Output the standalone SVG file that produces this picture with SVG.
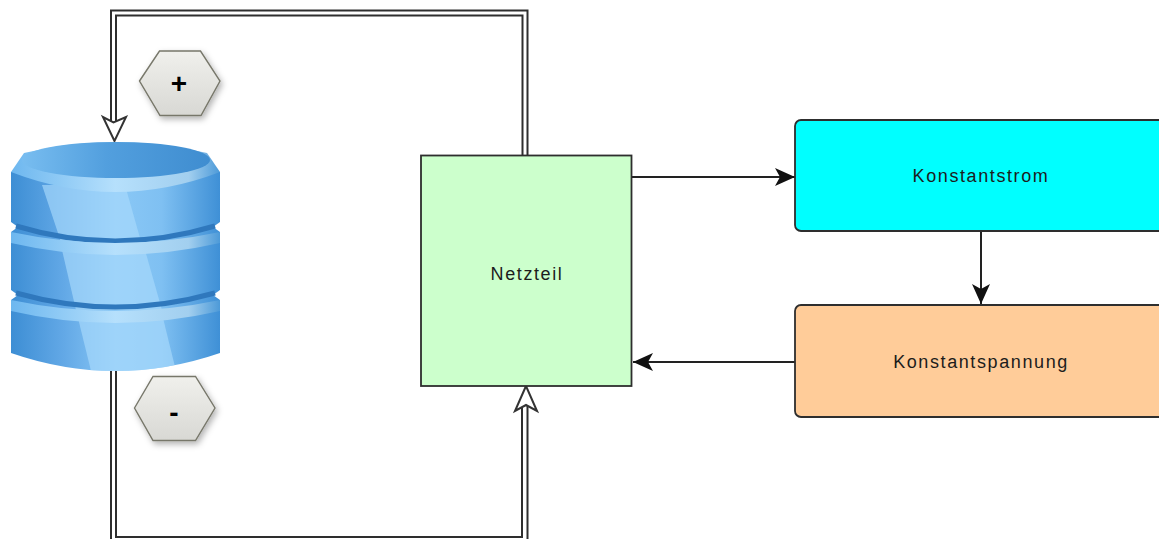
<svg xmlns="http://www.w3.org/2000/svg" width="1159" height="539" viewBox="0 0 1159 539">
<style>
.box{stroke:#2e2e2e;stroke-width:1.8}
.lbl{font-family:"Liberation Sans",Arial,sans-serif;font-size:18px;letter-spacing:1.6px;fill:#1c1c1c;text-anchor:middle}
.sign{font-family:"Liberation Sans",Arial,sans-serif;font-size:28px;font-weight:bold;fill:#000;text-anchor:middle}
.dbl{fill:none;stroke:#2e2e2e;stroke-width:2}
.thin{fill:none;stroke:#222;stroke-width:2}
.open{fill:#fff;stroke:#333;stroke-width:2;stroke-linejoin:miter}
.hex{fill:url(#hexFill);stroke:#77776a;stroke-width:1.4;filter:url(#soft)}
.groove{fill:none;stroke:#2f78bd;stroke-width:5}
.lit{fill:#a9dafc;opacity:.65}
</style>
<defs>
<marker id="solid" markerUnits="userSpaceOnUse" markerWidth="22" markerHeight="20" refX="20" refY="10" orient="auto">
<path d="M0 1 L20 10 L0 19 L5 10 Z" fill="#111"/>
</marker>
<linearGradient id="hexFill" x1="0" y1="0" x2="0" y2="1"><stop offset="0" stop-color="#f0f0ec"/><stop offset="1" stop-color="#d8d8d4"/></linearGradient>
<filter id="soft" x="-20%" y="-20%" width="150%" height="150%"><feDropShadow dx="2" dy="3" stdDeviation="3" flood-color="#000" flood-opacity=".3"/></filter>
<linearGradient id="body" x1="0" y1="0" x2="1" y2="0"><stop offset="0" stop-color="#3d8ed4"/><stop offset=".25" stop-color="#62a8e6"/><stop offset=".5" stop-color="#8ac8f6"/><stop offset=".72" stop-color="#7fc0f2"/><stop offset="1" stop-color="#3f90d6"/></linearGradient>
<linearGradient id="top" x1="0" y1="0" x2="1" y2="0"><stop offset="0" stop-color="#78bdf0"/><stop offset=".45" stop-color="#529fde"/><stop offset="1" stop-color="#3f8dd0"/></linearGradient>
<linearGradient id="band" x1="0" y1="0" x2="1" y2="0"><stop offset="0" stop-color="#6db7ef"/><stop offset=".5" stop-color="#b6e0fc"/><stop offset=".85" stop-color="#a2cfef"/><stop offset="1" stop-color="#4d9ad8"/></linearGradient>
<clipPath id="drum"><path d="M11 172V353Q115 389 220 353V172Z"/></clipPath>
</defs>
<g id="connectors">
<path class="dbl" d="M111 122V10.500H527.500V155"/>
<path class="dbl" d="M116 122V15.500H522.500V155"/>
<path class="open" d="M114.500 141L103 117L113.500 122.500L126 117Z"/>
<path class="dbl" d="M111 371V542H527.500V406"/>
<path class="dbl" d="M116 371V537H522V406"/>
<path class="open" d="M526 386L515 411L526 405L537 411Z"/>
<path class="thin" d="M632 177H795" marker-end="url(#solid)"/>
<path class="thin" d="M981 231V304" marker-end="url(#solid)"/>
<path class="thin" d="M795 362H633" marker-end="url(#solid)"/>
</g>
<g id="storage">
<path d="M11 172V353Q115 389 220 353V172Z" fill="url(#body)"/>
<g clip-path="url(#drum)">
<path class="lit" d="M42 185L125 185L142 245H62Z"/>
<path class="lit" d="M62 250L145 250L162 310H76Z"/>
<path class="lit" d="M78 318L163 318L177 375H92Z"/>
</g>
<path d="M11 222L18 227L11 232Z" fill="#fff"/>
<path d="M220 222L213 227L220 232Z" fill="#fff"/>
<path d="M11 290L18 295L11 300Z" fill="#fff"/>
<path d="M220 290L213 295L220 300Z" fill="#fff"/>
<path class="groove" d="M16 226Q115 256 215 226"/>
<path class="groove" d="M16 293Q115 321 215 293"/>
<path d="M11 232Q115 254 220 232V243Q115 267 11 243Z" fill="url(#band)"/>
<path d="M11 300Q115 322 220 300V311Q115 335 11 311Z" fill="url(#band)"/>
<path d="M11 172L24 153Q115 131 207 153L220 172Q115 212 11 172Z" fill="url(#band)"/>
<ellipse cx="116" cy="160" rx="94" ry="18" fill="url(#top)"/>
</g>
<g id="plus">
<polygon class="hex" points="139.500,81 159.500,51 200.500,51 220,81 201,115.500 160,115.500"/>
<text class="sign" x="179" y="93">+</text>
</g>
<g id="minus">
<polygon class="hex" points="134.500,408 153,376.500 195.500,376.500 215,408 195.500,440.500 153,440.500"/>
<text class="sign" x="174" y="422">-</text>
</g>
<g id="netzteil">
<rect class="box" x="421" y="155.500" width="210.500" height="230.500" fill="#ccffcc"/>
<text class="lbl" x="527" y="280">Netzteil</text>
</g>
<g id="konstantstrom">
<rect class="box" x="795" y="120" width="380" height="111" rx="6" fill="#00ffff"/>
<text class="lbl" x="981" y="182">Konstantstrom</text>
</g>
<g id="konstantspannung">
<rect class="box" x="795" y="305" width="380" height="112" rx="6" fill="#ffcc99"/>
<text class="lbl" x="981" y="368">Konstantspannung</text>
</g>
</svg>
